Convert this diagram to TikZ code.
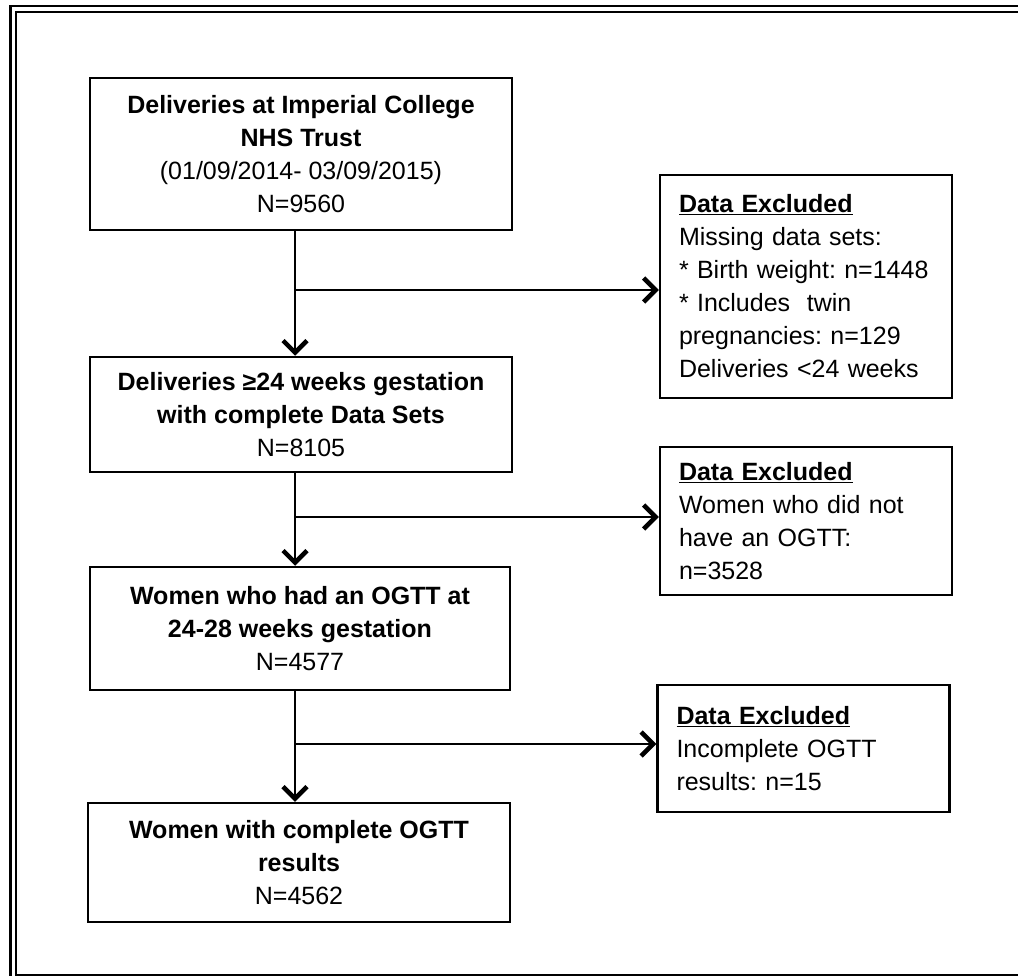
\documentclass[tikz,border=0pt]{standalone}
\usepackage{fontspec}
\setmainfont{Liberation Sans}
\usetikzlibrary{arrows.meta}
\frenchspacing

\begin{document}
\begin{tikzpicture}[x=1pt,y=-1pt,
  font=\fontsize{25}{33}\selectfont,
  stage/.style={draw,line width=2.5pt,align=center,minimum width=422pt,inner sep=0pt},
  excl/.style={draw,line width=2.5pt,align=left,text width=254pt,inner xsep=19pt,inner ysep=0pt},
  >={Straight Barb[length=12pt,width=24pt,line width=4.5pt]}]
\useasboundingbox (0,0) rectangle (1018,976);
\clip (0,0) rectangle (1018,976);
% double frame
\draw[line width=2.5pt] (10.5,6) rectangle (1060,990);
\draw[line width=2pt] (15.5,12) rectangle (1060,974.5);

% main stages
\node[stage, minimum height=152pt] (deliv) at (301,154) {\textbf{Deliveries at Imperial College}\\ \textbf{NHS Trust}\\ (01/09/2014- 03/09/2015)\\ N=9560};
\node[stage, minimum height=115pt] (complete) at (301,414.5) {\textbf{Deliveries ≥24 weeks gestation}\\ \textbf{with complete Data Sets}\\ N=8105};
\node[stage, minimum width=420pt, minimum height=123pt] (ogtt) at (300,628.5) {\textbf{Women who had an OGTT at}\\ \textbf{24-28 weeks gestation}\\ N=4577};
\node[stage, minimum height=119pt] (final) at (299,862.5) {\textbf{Women with complete OGTT}\\ \textbf{results}\\ N=4562};

% excluded data
\node[excl, minimum height=223pt] (exA) at (806,286.5) {\underline{\textbf{Data Excluded}}\\ Missing data sets:\\ {*} Birth weight: n=1448\\ {*} Includes\ \ twin\\ pregnancies: n=129\\ Deliveries <24 weeks};
\node[excl, minimum height=148pt] (exB) at (806,521) {\underline{\textbf{Data Excluded}}\\ Women who did not\\ have an OGTT:\\ n=3528};
\node[excl, minimum height=127pt] (exC) at (803.5,748.5) {\underline{\textbf{Data Excluded}}\\ Incomplete OGTT\\ results: n=15};

% arrows
\coordinate (b1) at (295,290);
\coordinate (b2) at (295,517);
\coordinate (b3) at (295,744);
\path[draw,line width=2.5pt,->] (deliv.south -| b1) -- (complete.north -| b1);
\path[draw,line width=2.5pt,->] (b1) -- (exA.west |- b1);
\path[draw,line width=2.5pt,->] (complete.south -| b2) -- (ogtt.north -| b2);
\path[draw,line width=2.5pt,->] (b2) -- (exB.west |- b2);
\path[draw,line width=2.5pt,->] (ogtt.south -| b3) -- (final.north -| b3);
\path[draw,line width=2.5pt,->] (b3) -- (exC.west |- b3);
\end{tikzpicture}
\end{document}
